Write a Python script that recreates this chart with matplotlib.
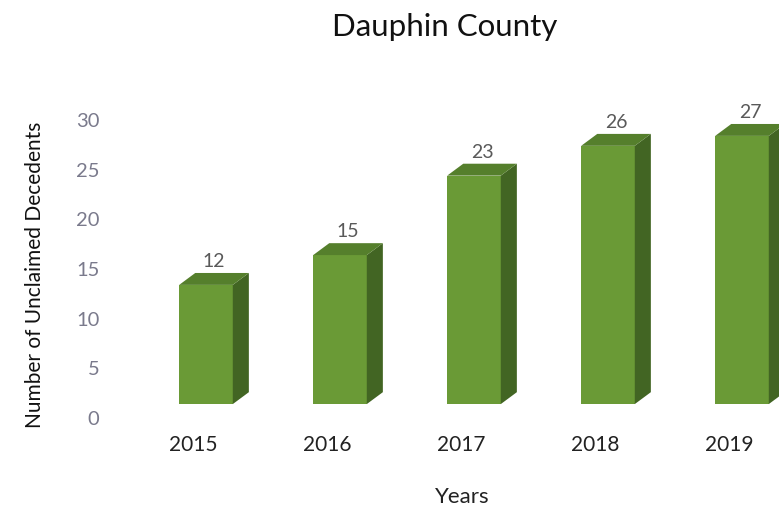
import matplotlib.pyplot as plt
from matplotlib.patches import Polygon

plt.rcParams['font.family'] = ['Lato', 'DejaVu Sans']

years = ['2015', '2016', '2017', '2018', '2019']
counts = [12, 15, 23, 26, 27]
yticks = [0, 5, 10, 15, 20, 25, 30]

front_col = '#6a9a36'
side_col = '#426523'
top_col = '#557f2c'

base = 1.4     # front face floor, in value units
width = 0.40   # front face width, in category units
dx = 0.12      # depth offset
dy = 1.2

fig = plt.figure(figsize=(7.79, 5.09), dpi=100)
ax = fig.add_axes([130 / 779, 91 / 509, 649 / 779, 298 / 509])
ax.set_xlim(-0.567, -0.567 + 649 / 134)
ax.set_ylim(0, 30)

for i, v in enumerate(counts):
    x0 = i - width / 2
    x1 = i + width / 2
    y0 = base
    y1 = base + v
    front = Polygon([(x0, y0), (x1, y0), (x1, y1), (x0, y1)],
                    closed=True, fc=front_col, ec='none')
    side = Polygon([(x1, y0), (x1 + dx, y0 + dy), (x1 + dx, y1 + dy), (x1, y1)],
                   closed=True, fc=side_col, ec='none')
    top = Polygon([(x0, y1), (x1, y1), (x1 + dx, y1 + dy), (x0 + dx, y1 + dy)],
                  closed=True, fc=top_col, ec='none')
    for p in (front, side, top):
        ax.add_patch(p)
    ax.text(i + dx / 2, y1 + dy + 0.3, str(v), ha='center', va='bottom',
            fontsize=14, color='#595959')

ax.set_yticks(yticks)
ax.set_yticklabels([str(t) for t in yticks], fontsize=14.5, color='#7a7a8c')
ax.set_xticks([])
for s in ax.spines.values():
    s.set_visible(False)
ax.tick_params(axis='y', length=0, pad=22)

for i, yr in enumerate(years):
    ax.text(i - 0.097, -2.75, yr, ha='center', va='center', fontsize=15,
            color='#222222')

fig.text(462 / 779, 1 - 497 / 509, 'Years', ha='center', va='center',
         fontsize=16, color='#222222')
fig.text(35 / 779, 1 - 275 / 509, 'Number of Unclaimed Decedents',
         rotation=90, ha='center', va='center', fontsize=15, color='#111111')
fig.text(445 / 779, 1 - 27 / 509, 'Dauphin County', ha='center', va='center',
         fontsize=22.5, color='#111111')

fig.savefig('out.png', dpi=100)
